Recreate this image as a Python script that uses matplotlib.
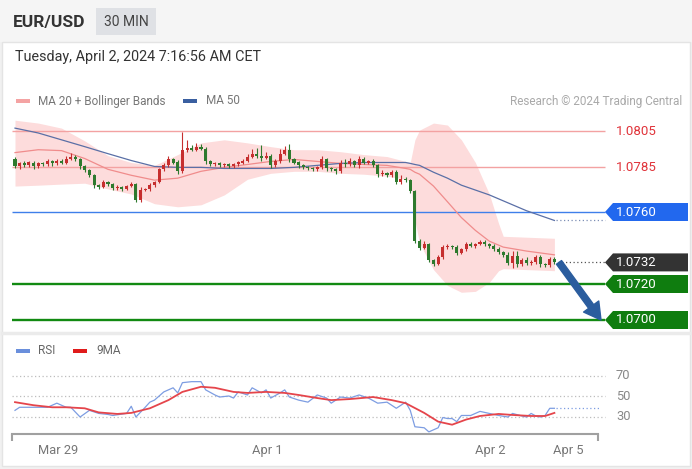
import numpy as np
import matplotlib
matplotlib.use('Agg')
import matplotlib.pyplot as plt
from matplotlib.patches import Rectangle, Polygon
from matplotlib.transforms import blended_transform_factory

plt.rcParams['font.family'] = ['Roboto', 'DejaVu Sans']

# ---- data (EUR/USD 30 min) ----
first_open = 1.07897
closes = [
    1.07853, 1.07870, 1.07859, 1.07875, 1.07853, 1.07870, 1.07864, 1.07881, 1.07870, 1.07886,
    1.07875, 1.07897, 1.07908, 1.07892, 1.07853, 1.07831, 1.07804, 1.07749, 1.07739, 1.07766,
    1.07755, 1.07733, 1.07739, 1.07728, 1.07744, 1.07755, 1.07668, 1.07722, 1.07728, 1.07749,
    1.07766, 1.07837, 1.07859, 1.07892, 1.07875, 1.07826, 1.07946, 1.07957, 1.07946, 1.07963,
    1.07952, 1.07881, 1.07864, 1.07870, 1.07859, 1.07864, 1.07853, 1.07864, 1.07875, 1.07886,
    1.07908, 1.07924, 1.07913, 1.07902, 1.07913, 1.07859, 1.07881, 1.07924, 1.07946, 1.07892,
    1.07875, 1.07859, 1.07848, 1.07842, 1.07837, 1.07848, 1.07892, 1.07842, 1.07837, 1.07826,
    1.07870, 1.07864, 1.07881, 1.07859, 1.07892, 1.07875, 1.07881, 1.07859, 1.07810, 1.07815,
    1.07804, 1.07821, 1.07766, 1.07782, 1.07777, 1.07717, 1.07438, 1.07400, 1.07422, 1.07334,
    1.07312, 1.07351, 1.07405, 1.07411, 1.07405, 1.07372, 1.07394, 1.07422, 1.07411, 1.07422,
    1.07433, 1.07422, 1.07411, 1.07394, 1.07378, 1.07362, 1.07318, 1.07356, 1.07312, 1.07334,
    1.07318, 1.07323, 1.07351, 1.07312, 1.07307, 1.07340, 1.07320]
# wick lengths in pips above / below the body
wick_up = [
    1.0, 0.8, 1.2, 1.0, 0.6, 1.0, 0.8, 1.4, 0.6, 1.0,
    0.8, 1.2, 2.0, 1.0, 0.8, 0.6, 1.0, 0.8, 0.6, 1.0,
    0.8, 0.6, 1.0, 0.8, 0.6, 1.0, 0.8, 1.5, 0.8, 1.0,
    0.8, 1.0, 1.2, 2.0, 1.0, 1.2, 10.0, 4.5, 1.6, 2.0,
    1.5, 1.0, 0.8, 0.6, 1.0, 0.8, 0.6, 1.0, 0.8, 1.0,
    1.2, 2.5, 3.0, 6.0, 2.0, 1.0, 1.5, 2.5, 2.0, 3.0,
    1.0, 0.8, 0.6, 1.0, 0.8, 1.0, 2.0, 1.0, 0.8, 0.6,
    2.0, 2.5, 2.0, 1.0, 2.0, 1.5, 1.0, 1.2, 1.0, 2.0,
    0.8, 1.5, 1.0, 2.5, 1.0, 0.8, 0.6, 1.0, 1.5, 0.8,
    0.6, 1.0, 1.2, 1.0, 0.8, 1.0, 0.8, 1.2, 1.0, 0.8,
    1.2, 1.0, 0.8, 1.0, 1.0, 0.8, 1.5, 2.5, 3.0, 1.0,
    1.5, 1.0, 1.0, 0.8, 0.6, 1.0, 0.8]
wick_dn = [
    1.0, 1.2, 0.8, 1.0, 1.4, 0.8, 1.0, 0.6, 1.2, 0.8,
    1.0, 0.8, 0.6, 1.0, 1.2, 0.8, 1.0, 1.5, 1.0, 0.8,
    1.0, 1.2, 0.8, 1.0, 0.8, 0.6, 1.0, 1.0, 0.8, 1.0,
    0.8, 0.6, 1.0, 0.8, 1.0, 1.5, 1.0, 1.0, 0.8, 0.6,
    0.8, 1.2, 1.0, 0.8, 1.0, 0.8, 1.0, 0.6, 0.8, 1.0,
    0.8, 1.0, 1.2, 2.0, 1.0, 1.2, 1.0, 0.8, 1.0, 1.5,
    1.0, 1.2, 0.8, 1.0, 1.0, 0.8, 1.0, 1.2, 0.8, 1.5,
    1.0, 1.5, 0.8, 1.0, 1.2, 1.0, 0.8, 1.0, 1.5, 1.0,
    1.2, 1.0, 1.0, 0.8, 1.0, 1.0, 1.0, 1.2, 0.8, 1.0,
    1.2, 0.8, 1.0, 0.8, 1.0, 1.2, 0.8, 1.0, 0.8, 1.0,
    0.8, 1.0, 1.2, 1.0, 1.0, 1.2, 1.5, 3.0, 1.5, 1.0,
    1.2, 1.0, 1.0, 1.5, 1.0, 1.0, 0.8]

# MA 20 / Bollinger bands / MA 50, read at these candles
band_idx = [0, 5, 10, 15, 20, 25, 30, 35, 40, 45, 50, 55, 60, 65, 70, 75, 80, 84, 85, 86,
            87, 90, 93, 96, 99, 102, 104, 105, 110, 116]
ma20 = [1.07930, 1.07946, 1.07941, 1.07897, 1.07837, 1.07804, 1.07777, 1.07788, 1.07826, 1.07848,
        1.07864, 1.07881, 1.07892, 1.07881, 1.07870, 1.07864, 1.07859, 1.07842, 1.07837, 1.07821,
        1.07810, 1.07744, 1.07657, 1.07569, 1.07498, 1.07438, 1.07416, 1.07405, 1.07383, 1.07362]
bb_up = [1.08110, 1.08094, 1.08066, 1.07995, 1.07913, 1.07875, 1.07859, 1.07919, 1.07984, 1.08001,
         1.07984, 1.07963, 1.07946, 1.07946, 1.07935, 1.07919, 1.07908, 1.07881, 1.07875, 1.08001,
         1.08055, 1.08094, 1.08083, 1.08001, 1.07875, 1.07700, 1.07536, 1.07465, 1.07460, 1.07454]
bb_lo = [1.07744, 1.07749, 1.07755, 1.07760, 1.07728, 1.07700, 1.07646, 1.07629, 1.07640, 1.07695,
         1.07782, 1.07815, 1.07826, 1.07826, 1.07815, 1.07810, 1.07799, 1.07782, 1.07771, 1.07553,
         1.07427, 1.07280, 1.07192, 1.07154, 1.07159, 1.07209, 1.07274, 1.07285, 1.07280, 1.07274]
ma50 = [1.08066, 1.08039, 1.08001, 1.07963, 1.07924, 1.07886, 1.07853, 1.07848, 1.07848, 1.07842,
        1.07842, 1.07842, 1.07848, 1.07859, 1.07870, 1.07875, 1.07875, 1.07875, 1.07870, 1.07864,
        1.07859, 1.07821, 1.07788, 1.07749, 1.07722, 1.07695, 1.07673, 1.07662, 1.07607, 1.07553]

resistances = [1.0805, 1.0785]
pivot = 1.0760
last_price = 1.0732
supports = [1.0720, 1.0700]

# RSI panel
rsi_idx = [0, 1, 4, 7, 9, 10, 11, 12, 14, 16, 18, 20, 21, 24, 25, 26, 28, 29, 30, 32,
           33, 34, 35, 36, 38, 40, 41, 43, 44, 46, 47, 48, 50, 51, 53, 54, 55, 57, 58, 59,
           61, 63, 65, 67, 68, 70, 72, 74, 76, 78, 80, 82, 84, 85, 86, 88, 89, 91, 92, 93,
           94, 95, 96, 98, 100, 102, 104, 106, 107, 109, 110, 111, 112, 113, 114, 115, 116]
rsi_val = [36, 39, 39, 39, 43, 41, 39, 39, 29.5, 36, 33, 32, 31, 33, 40, 29.5, 39, 44, 46, 54,
           56, 58, 53, 63, 64, 64, 56, 51, 49, 50, 48, 54, 51, 58, 53, 56, 48, 53, 56, 49,
           46, 44, 51, 48, 43, 49, 48, 51, 48, 43, 44, 38, 44, 36, 20, 19, 15, 19, 29, 28,
           28, 25, 31, 31, 35, 33, 31, 29.5, 33, 30.5, 29.5, 33, 30.5, 29.5, 31, 38, 38]
ma9_idx = [0, 4, 8, 11, 15, 18, 22, 25, 29, 33, 36, 40, 43, 47, 50, 54, 58, 61, 65, 68,
           72, 77, 81, 84, 88, 91, 94, 97, 100, 104, 107, 111, 114, 116]
ma9_val = [44, 41, 39, 39, 38, 34, 32.5, 33.5, 38, 46, 54, 59, 58, 54, 53, 54, 53, 51, 48, 46,
           47, 49, 46, 43, 33.5, 25, 22, 27, 30.5, 32.5, 31.5, 30.5, 30.5, 33.5]
rsi_levels = [70, 50, 30]

tick_idx = [9.2, 54.2, 102.2, 118.9]
tick_labels = ['Mar 29', 'Apr 1', 'Apr 2', 'Apr 5']

# ---- layout helpers (pixels of the 692x469 picture) ----
W, H = 692, 469
X0, STEP = 15, 4.65          # first candle x, px per candle
PY = 0.001 / 18.0            # price per px
YTOP, YBOT = 1.0805 + 21 * PY, 1.0805 - 199 * PY


def px_to_i(px):
    return (px - X0) / STEP


def fbox(x0, y0, x1, y1):
    return [x0 / W, 1 - y1 / H, (x1 - x0) / W, (y1 - y0) / H]


fig = plt.figure(figsize=(W / 100, H / 100), dpi=100)
fig.patch.set_facecolor('#f1f1f1')

bg = fig.add_axes([0, 0, 1, 1])
bg.set_xlim(0, W)
bg.set_ylim(H, 0)
bg.axis('off')
bg.add_patch(Rectangle((0, 0), W, 42, facecolor='#f5f5f5', edgecolor='none'))
bg.add_patch(Rectangle((2, 42), W - 4, 424, facecolor='white', edgecolor='#e4e4e4', lw=1))
bg.plot([2, W - 2], [333, 333], color='#ebebeb', lw=2.5)
bg.text(13, 22, 'EUR/USD', fontsize=12.5, fontweight='bold', color='#333333', va='center')
bg.add_patch(Rectangle((96, 8), 60, 27, facecolor='#dfe1e5', edgecolor='none'))
bg.text(126, 22, '30 MIN', fontsize=10, color='#444444', va='center', ha='center')
bg.text(15, 57, 'Tuesday, April 2, 2024 7:16:56 AM CET', fontsize=10.4, color='#333333', va='center')

# legends
bg.add_patch(Rectangle((16, 99), 14, 4, facecolor='#f4a3a3', edgecolor='none'))
bg.text(38, 101, 'MA 20 + Bollinger Bands', fontsize=8.5, color='#777777', va='center')
bg.add_patch(Rectangle((183, 99), 14, 4, facecolor='#3a5fa0', edgecolor='none'))
bg.text(206, 101, 'MA 50', fontsize=8.5, color='#777777', va='center')
bg.text(682, 101, 'Research \u00a9 2024 Trading Central', fontsize=8.5, color='#a9a9a9',
        va='center', ha='right')
bg.add_patch(Rectangle((16, 349), 14, 4, facecolor='#6a8fdc', edgecolor='none'))
bg.text(38, 351, 'RSI', fontsize=8.5, color='#666666', va='center')
bg.add_patch(Rectangle((73, 349), 14, 4, facecolor='#e01b1b', edgecolor='none'))
bg.text(96, 351, '9MA', fontsize=8.5, color='#666666', va='center')

# ---- price panel ----
ax = fig.add_axes(fbox(0, 110, W, 330))
ax.set_xlim(px_to_i(0), px_to_i(W))
ax.set_ylim(YBOT, YTOP)
ax.axis('off')

ax.fill_between(band_idx, bb_lo, bb_up, color='#fddcdc', lw=0, zorder=1)
ax.plot(band_idx, ma20, color='#f08c8c', lw=0.9, zorder=3)
ax.plot(band_idx, ma50, color='#5a6fa6', lw=0.9, zorder=3)

xl, xr = px_to_i(12), px_to_i(605)
ax.hlines(resistances, xl, xr, colors='#f3a2a2', lw=1.0, zorder=2)
ax.hlines(pivot, xl, xr, colors='#3f7fea', lw=1.0, zorder=2)
ax.hlines(supports, xl, xr, colors='#128a12', lw=1.7, zorder=2)

c = np.array(closes)
o = np.concatenate([[first_open], c[:-1]])
x = np.arange(len(c))
top = np.maximum(o, c)
bot = np.minimum(o, c)
hi = top + np.array(wick_up) * 0.0001
lo = bot - np.array(wick_dn) * 0.0001
cols = np.where(c < o, '#2e7a2e', '#c62f2f')
ax.vlines(x, lo, hi, colors=cols, lw=0.8, zorder=4)
ax.bar(x, np.maximum(top - bot, 0.00003), bottom=bot, width=0.66, color=cols, lw=0, zorder=5)

ax.hlines(c[-1], px_to_i(558), xr, colors='#555555', linestyles=(0, (1, 2)), lw=0.9)
ax.hlines(ma50[-1], px_to_i(556), xr, colors='#7d8fb5', linestyles=(0, (1, 2)), lw=0.9)

ax.annotate('', xy=(px_to_i(601), supports[1]), xytext=(px_to_i(559), last_price),
            arrowprops=dict(arrowstyle='simple,head_length=0.8,head_width=0.9,tail_width=0.3',
                            color='#2b5d9e', mutation_scale=15, shrinkA=0, shrinkB=0),
            zorder=6)

# price labels
tx = px_to_i(616)
for lv in resistances:
    ax.text(tx, lv, f'{lv:.4f}', color='#e0333a', fontsize=9.5, va='center')

hh = 9 * PY
xt, xb, xe = px_to_i(605), px_to_i(613), px_to_i(688)
for lv, fc in [(pivot, '#2268ee'), (last_price, '#333333'),
               (supports[0], '#0f7d0f'), (supports[1], '#0f7d0f')]:
    ax.add_patch(Polygon([(xt, lv), (xb, lv + hh), (xe, lv + hh), (xe, lv - hh), (xb, lv - hh)],
                         closed=True, facecolor=fc, edgecolor='none', zorder=6, clip_on=False))
    ax.text(tx, lv, f'{lv:.4f}', color='white', fontsize=9.5, va='center', zorder=7)

# ---- RSI panel ----
ax2 = fig.add_axes(fbox(0, 340, W, 434))
ax2.set_xlim(px_to_i(0), px_to_i(W))
ax2.set_ylim(50 - 38 / 1.025, 50 + 56 / 1.025)
ax2.set_facecolor('none')
for s in ['top', 'left', 'right']:
    ax2.spines[s].set_visible(False)
ax2.spines['bottom'].set_bounds(px_to_i(12), px_to_i(598))
ax2.spines['bottom'].set_color('#a0a0a0')
ax2.spines['bottom'].set_linewidth(1.5)
ax2.set_yticks([])
ax2.set_xticks(tick_idx)
ax2.set_xticklabels(tick_labels)
ax2.tick_params(axis='x', length=0, pad=7, labelsize=9.3, labelcolor='#777777')
trans = blended_transform_factory(ax2.transData, ax2.transAxes)
ax2.vlines([px_to_i(12), px_to_i(598)], -0.07, 0, colors='#a0a0a0', lw=1.5,
           transform=trans, clip_on=False)

ax2.hlines(rsi_levels, px_to_i(12), px_to_i(605), colors='#bdbdbd', linestyles=(0, (1, 2)), lw=0.9)
for lv in rsi_levels:
    ax2.text(px_to_i(616), lv, str(lv), color='#888888', fontsize=9.3, va='center')
ax2.plot(rsi_idx, rsi_val, color='#7d9de2', lw=0.9)
ax2.plot(ma9_idx, ma9_val, color='#e5454b', lw=1.3)
ax2.hlines(rsi_val[-1], px_to_i(556), px_to_i(600), colors='#7d9de2', linestyles=(0, (1, 2)), lw=0.9)

fig.savefig('out.png', dpi=100)
